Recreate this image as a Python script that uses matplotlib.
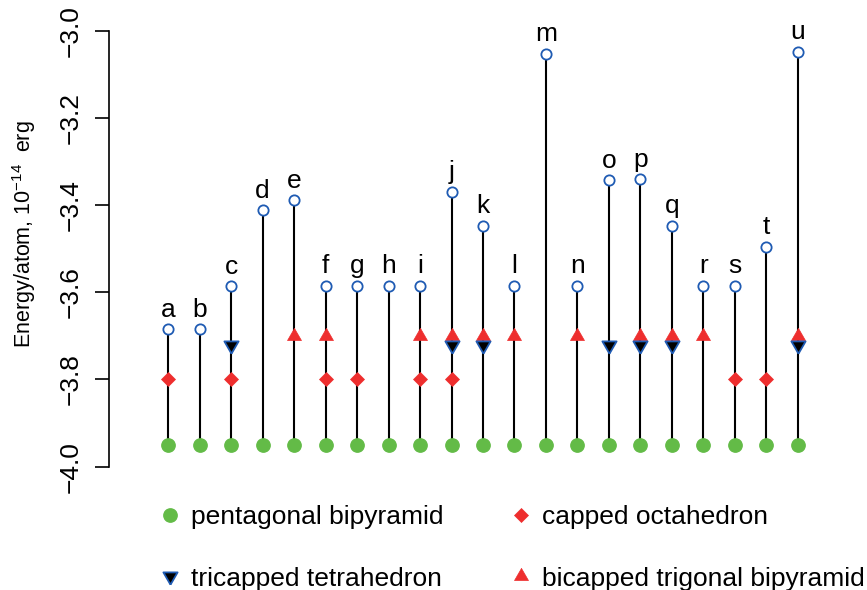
import numpy as np
import matplotlib.pyplot as plt

plt.rcParams['font.family'] = ['Liberation Sans', 'DejaVu Sans']

# cluster labels and energies (10^-14 erg per atom), nan = structure not found
letters = list('abcdefghijklmnopqrstu')
pentagonal = [-3.95] * 21
capped_oct = [-3.8, np.nan, -3.8, np.nan, np.nan, -3.8, -3.8, np.nan, -3.8, -3.8, np.nan,
              np.nan, np.nan, np.nan, np.nan, np.nan, np.nan, np.nan, -3.8, -3.8, np.nan]
tricapped = [np.nan, np.nan, -3.72, np.nan, np.nan, np.nan, np.nan, np.nan, np.nan, -3.72, -3.72,
             np.nan, np.nan, np.nan, -3.72, -3.72, -3.72, np.nan, np.nan, np.nan, -3.72]
bicapped = [np.nan, np.nan, np.nan, np.nan, -3.7, -3.7, np.nan, np.nan, -3.7, -3.7, -3.7,
            -3.7, np.nan, -3.7, np.nan, -3.7, -3.7, -3.7, np.nan, np.nan, -3.7]
top = [-3.685, -3.685, -3.586, -3.412, -3.389, -3.585, -3.585, -3.585, -3.585, -3.369, -3.447,
       -3.585, -3.052, -3.585, -3.343, -3.341, -3.447, -3.585, -3.585, -3.495, -3.048]
yticks = [-4.0, -3.8, -3.6, -3.4, -3.2, -3.0]
ytick_labels = ['\u22124.0', '\u22123.8', '\u22123.6', '\u22123.4', '\u22123.2', '\u22123.0']

green = '#63BB47'
red = '#EE2E2E'
blue = '#1F5BB3'

# R-style triangles: centroid on the data point
tri_up = [(0, 1), (-0.866, -0.5), (0.866, -0.5), (0, 1)]
tri_dn = [(0, -1), (-0.866, 0.5), (0.866, 0.5), (0, -1)]

x = np.arange(1, len(letters) + 1)

fig = plt.figure(figsize=(8.67, 5.9), dpi=100)
ax = fig.add_axes([109 / 867, 1 - 484 / 590, 748 / 867, 470.5 / 590])

ax.vlines(x, pentagonal, top, color='black', lw=1.5, zorder=1)
ax.plot(x, top, 'o', ms=7.4, mfc='white', mec=blue, mew=1.3, zorder=3)
l_pb, = ax.plot(x, pentagonal, 'o', ms=9.6, color=green, mec=green, zorder=3,
                label='pentagonal bipyramid')
l_co, = ax.plot(x, capped_oct, 'D', ms=7.6, color=red, mec=red, mew=0.5, zorder=3,
                label='capped octahedron')
l_bt, = ax.plot(x, bicapped, marker=tri_up, ls='none', ms=11.6, color=red, mec=red,
                mew=0.5, zorder=3, label='bicapped trigonal bipyramid')
l_tt, = ax.plot(x, tricapped, marker=tri_dn, ls='none', ms=11.8, mfc='black', mec=blue,
                mew=1.3, zorder=4, label='tricapped tetrahedron')

for xi, yi, s in zip(x, top, letters):
    ax.annotate(s, (xi, yi), xytext=(0, 9), textcoords='offset points',
                ha='center', va='baseline', fontsize=19)

ax.set_xlim(-0.88, 22.88)
ax.set_ylim(-4.04, -2.96)
ax.set_xticks([])
ax.set_yticks(yticks)
ax.set_yticklabels(ytick_labels, rotation=90, va='center')
ax.tick_params(axis='y', length=10, width=1.2, pad=9, labelsize=19)
for sp in ('top', 'right', 'bottom'):
    ax.spines[sp].set_visible(False)
ax.spines['left'].set_bounds(-4.0, -3.0)
ax.spines['left'].set_linewidth(1.2)

ax.set_ylabel(r'Energy/atom, $\mathregular{10^{-14}}$  erg', fontsize=15.5, va='center')
ax.yaxis.set_label_coords(-0.113, 0.531)

fig.legend([l_pb, l_tt, l_co, l_bt],
           ['pentagonal bipyramid', 'tricapped tetrahedron', 'capped octahedron',
            'bicapped trigonal bipyramid'],
           ncol=2, frameon=False, fontsize=19, numpoints=1,
           handlelength=0.8, handletextpad=0.38, columnspacing=2.55, labelspacing=1.43,
           borderpad=0, loc='upper left', bbox_to_anchor=(0.169, 0.1666))

fig.savefig('out.png', dpi=100)
